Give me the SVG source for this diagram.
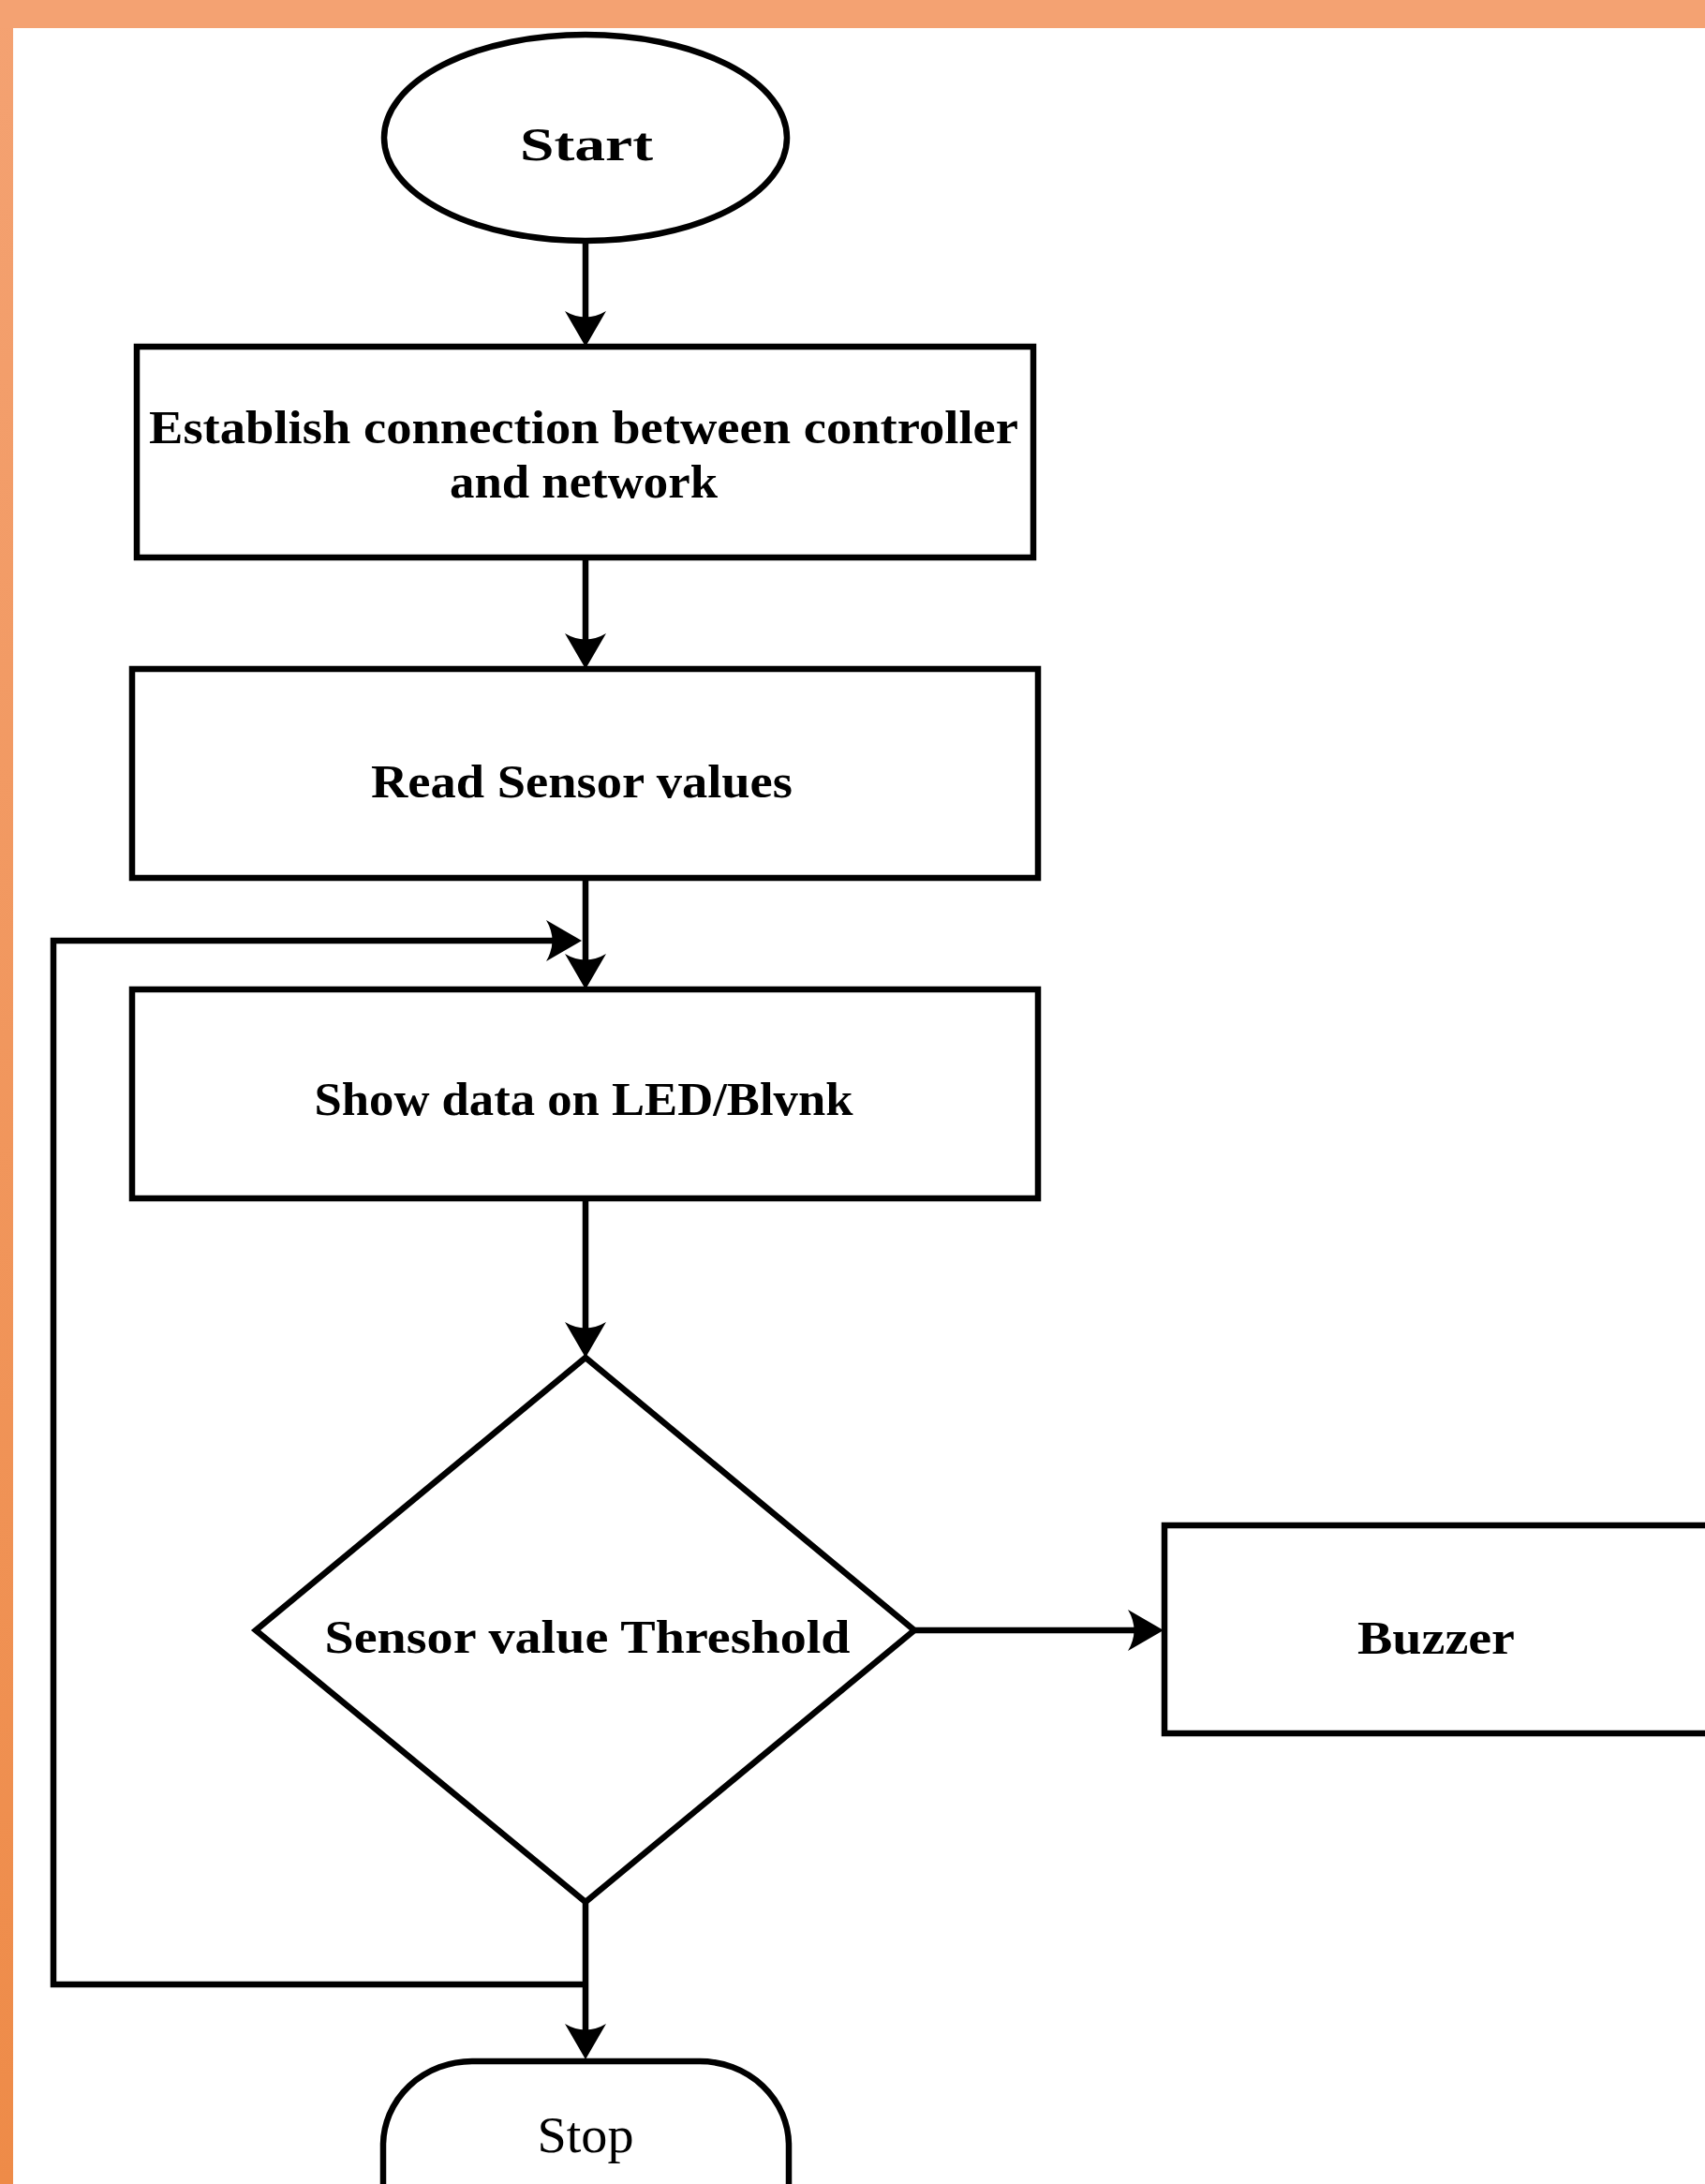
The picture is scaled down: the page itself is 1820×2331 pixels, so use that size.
<svg xmlns="http://www.w3.org/2000/svg" width="1820" height="2331" viewBox="0 0 1820 2331">
  <style>
    .shape { fill: #ffffff; stroke: #000000; stroke-width: 6.5; stroke-linejoin: miter; }
    .conn { fill: none; stroke: #000000; stroke-width: 6.5; stroke-linejoin: miter; }
    .lbl { font-family: "Liberation Serif", "Times New Roman", serif; font-weight: bold; font-size: 51px; fill: #000000; text-anchor: middle; }
    .lblr { font-family: "Liberation Serif", "Times New Roman", serif; font-weight: normal; font-size: 55px; fill: #000000; text-anchor: middle; }
  </style>
  <defs>
    <linearGradient id="strip" x1="0" y1="0" x2="0" y2="1">
      <stop offset="0" stop-color="#F4A272"/>
      <stop offset="1" stop-color="#EE8B48"/>
    </linearGradient>
    <marker id="arrow" viewBox="0 0 38 44" refX="17" refY="22" markerWidth="38" markerHeight="44" markerUnits="userSpaceOnUse" orient="auto">
      <path d="M0,0 L38,22 L0,44 Q13,22 0,0 Z" fill="#000000"/>
    </marker>
  </defs>
  <rect x="0" y="0" width="1820" height="2331" fill="#ffffff"/>
  <g id="frame">
    <rect x="0" y="0" width="14" height="2331" fill="url(#strip)"/>
    <rect x="0" y="0" width="1820" height="30" fill="#F4A272"/>
  </g>
  <g id="connectors">
    <path class="conn" d="M625,258 V349" marker-end="url(#arrow)"/>
    <path class="conn" d="M625,595 V693" marker-end="url(#arrow)"/>
    <path class="conn" d="M625,937 V1035" marker-end="url(#arrow)"/>
    <path class="conn" d="M625,1279 V1428" marker-end="url(#arrow)"/>
    <path class="conn" d="M977,1740 H1221" marker-end="url(#arrow)"/>
    <path class="conn" d="M625,2030 V2177" marker-end="url(#arrow)"/>
    <path class="conn" d="M625,2118 H57 V1004 H600" marker-end="url(#arrow)"/>
  </g>
  <g id="start">
    <ellipse class="shape" cx="625" cy="147" rx="215" ry="110" stroke-width="7"/>
    <text class="lbl" x="626" y="171" font-size="64" textLength="142" lengthAdjust="spacingAndGlyphs">Start</text>
  </g>
  <g id="establish">
    <rect class="shape" x="146" y="370" width="957" height="225"/>
    <text class="lbl" x="623" y="473" textLength="928" lengthAdjust="spacingAndGlyphs">Establish connection between controller</text>
    <text class="lbl" x="623" y="531" textLength="286" lengthAdjust="spacingAndGlyphs">and network</text>
  </g>
  <g id="read">
    <rect class="shape" x="141" y="714" width="967" height="223"/>
    <text class="lbl" x="621" y="851" textLength="450" lengthAdjust="spacingAndGlyphs">Read Sensor values</text>
  </g>
  <g id="show">
    <rect class="shape" x="141" y="1056" width="967" height="223"/>
    <text class="lbl" x="623" y="1190" textLength="575" lengthAdjust="spacingAndGlyphs">Show data on LED/Blvnk</text>
  </g>
  <g id="decision">
    <polygon class="shape" points="625,1449 976,1740 625,2030 273,1740"/>
    <text class="lbl" x="627" y="1764" textLength="561" lengthAdjust="spacingAndGlyphs">Sensor value Threshold</text>
  </g>
  <g id="buzzer">
    <rect class="shape" x="1243" y="1628" width="600" height="222"/>
    <text class="lbl" x="1533" y="1765" textLength="168" lengthAdjust="spacingAndGlyphs">Buzzer</text>
  </g>
  <g id="stop">
    <rect class="shape" x="409" y="2200" width="433" height="240" rx="95" ry="90" stroke-width="7"/>
    <text class="lblr" x="625" y="2297" textLength="103" lengthAdjust="spacingAndGlyphs">Stop</text>
  </g>
</svg>
